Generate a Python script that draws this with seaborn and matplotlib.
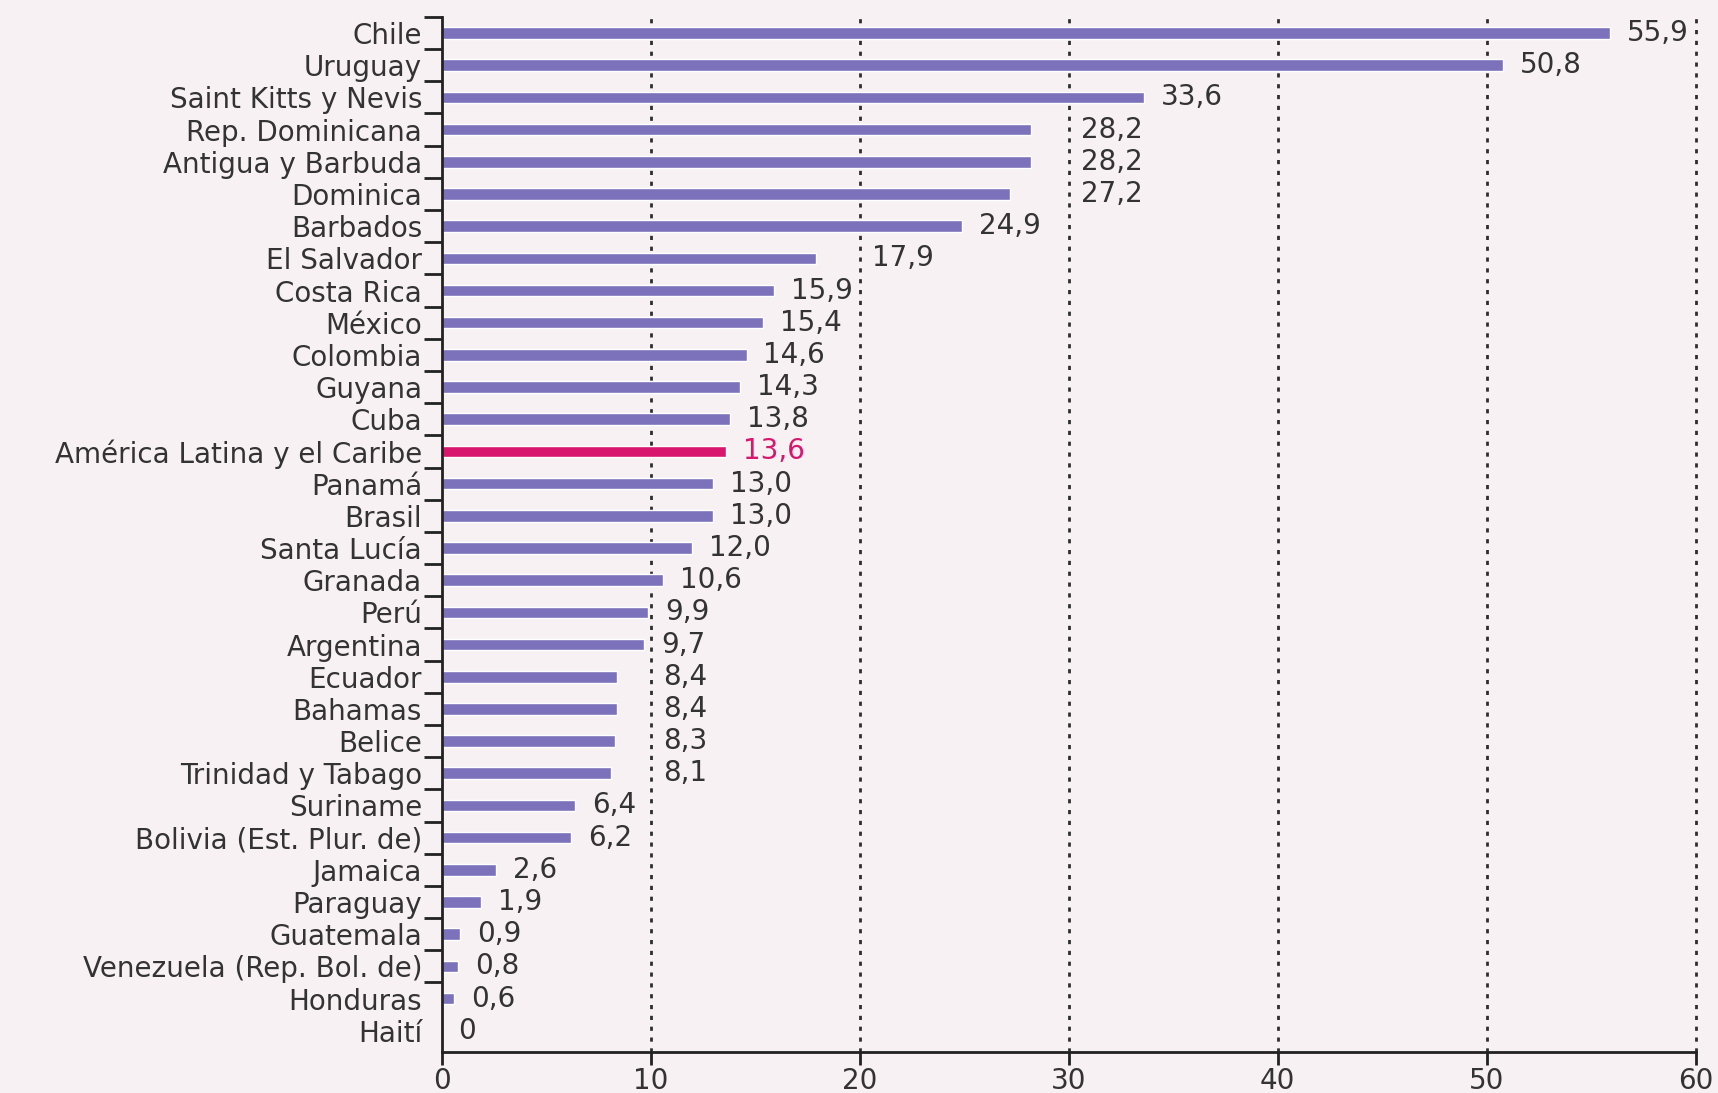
import matplotlib
matplotlib.use("Agg")
import matplotlib.pyplot as plt
import seaborn as sns
import pandas as pd
import numpy as np

countries = ["Chile", "Uruguay", "Saint Kitts y Nevis", "Rep. Dominicana", "Antigua y Barbuda",
             "Dominica", "Barbados", "El Salvador", "Costa Rica", "México", "Colombia", "Guyana",
             "Cuba", "América Latina y el Caribe", "Panamá", "Brasil", "Santa Lucía", "Granada",
             "Perú", "Argentina", "Ecuador", "Bahamas", "Belice", "Trinidad y Tabago", "Suriname",
             "Bolivia (Est. Plur. de)", "Jamaica", "Paraguay", "Guatemala",
             "Venezuela (Rep. Bol. de)", "Honduras", "Haití"]
values = [55.9, 50.8, 33.6, 28.2, 28.2, 27.2, 24.9, 17.9, 15.9, 15.4, 14.6, 14.3, 13.8, 13.6,
          13.0, 13.0, 12.0, 10.6, 9.9, 9.7, 8.4, 8.4, 8.3, 8.1, 6.4, 6.2, 2.6, 1.9, 0.9, 0.8, 0.6, 0.0]
highlight = "América Latina y el Caribe"
x_ticks = [0, 10, 20, 30, 40, 50, 60]

bar_color = "#7b72bb"
hi_color = "#d8166e"
text_color = "#333333"
bg = "#f7f1f3"
FS = 20

sns.set_theme(style="white")
plt.rcParams['font.family'] = ['DejaVu Sans']

df = pd.DataFrame({"country": countries, "value": values})
palette = {c: (hi_color if c == highlight else bar_color) for c in countries}

fig = plt.figure(figsize=(17.18, 10.93), dpi=100, facecolor=bg)
ax = fig.add_axes([0.257, 0.0375, 0.73, 0.947])
ax.set_facecolor(bg)

sns.barplot(data=df, y="country", x="value", hue="country", palette=palette,
            orient="h", width=0.36, legend=False, ax=ax, saturation=1, zorder=2)

n = len(countries)
ax.set_xlim(0, 60)
ax.set_ylim(n - 1 + 0.66, -0.5)

# vertical dotted grid
for t in x_ticks[1:]:
    ax.axvline(t, color="#2e2e2e", lw=2.0, linestyle=(0, (1.5, 2.4)), zorder=0.5, clip_on=False)

# value labels, nudged past a dotted line when they would cross it
for i, (c, v) in enumerate(zip(countries, values)):
    col = hi_color if c == highlight else text_color
    txt = f"{v:.1f}".replace(".", ",") if v != 0 else "0"
    w = 0.85 * sum(0.45 if ch == "," else 1.0 for ch in txt)
    start = v + 0.8
    for t in x_ticks[1:-1]:
        if start - 0.3 < t < start + w:
            start = t + 0.6
    ax.text(start, i, txt, va="center", ha="left", fontsize=FS, color=col, zorder=3)

for s in ["top", "right"]:
    ax.spines[s].set_visible(False)
for s in ["left", "bottom"]:
    ax.spines[s].set_color("#222222")
    ax.spines[s].set_linewidth(2.0)

ax.set_xticks(x_ticks)
ax.set_xticklabels([str(t) for t in x_ticks], fontsize=FS, color=text_color)
ax.tick_params(axis="x", direction="out", length=9, width=2, color="#222222", pad=2, bottom=True)
ax.set_yticks(range(n))
ax.set_yticklabels(countries, fontsize=FS, color=text_color)
ax.tick_params(axis="y", length=0, pad=14)
ax.set_yticks(np.arange(n - 1) - 0.5, minor=True)
ax.tick_params(axis="y", which="minor", direction="out", length=13, width=2, color="#222222", left=True)
ax.set_xlabel("")
ax.set_ylabel("")

fig.savefig("out.png", dpi=100, facecolor=bg)
